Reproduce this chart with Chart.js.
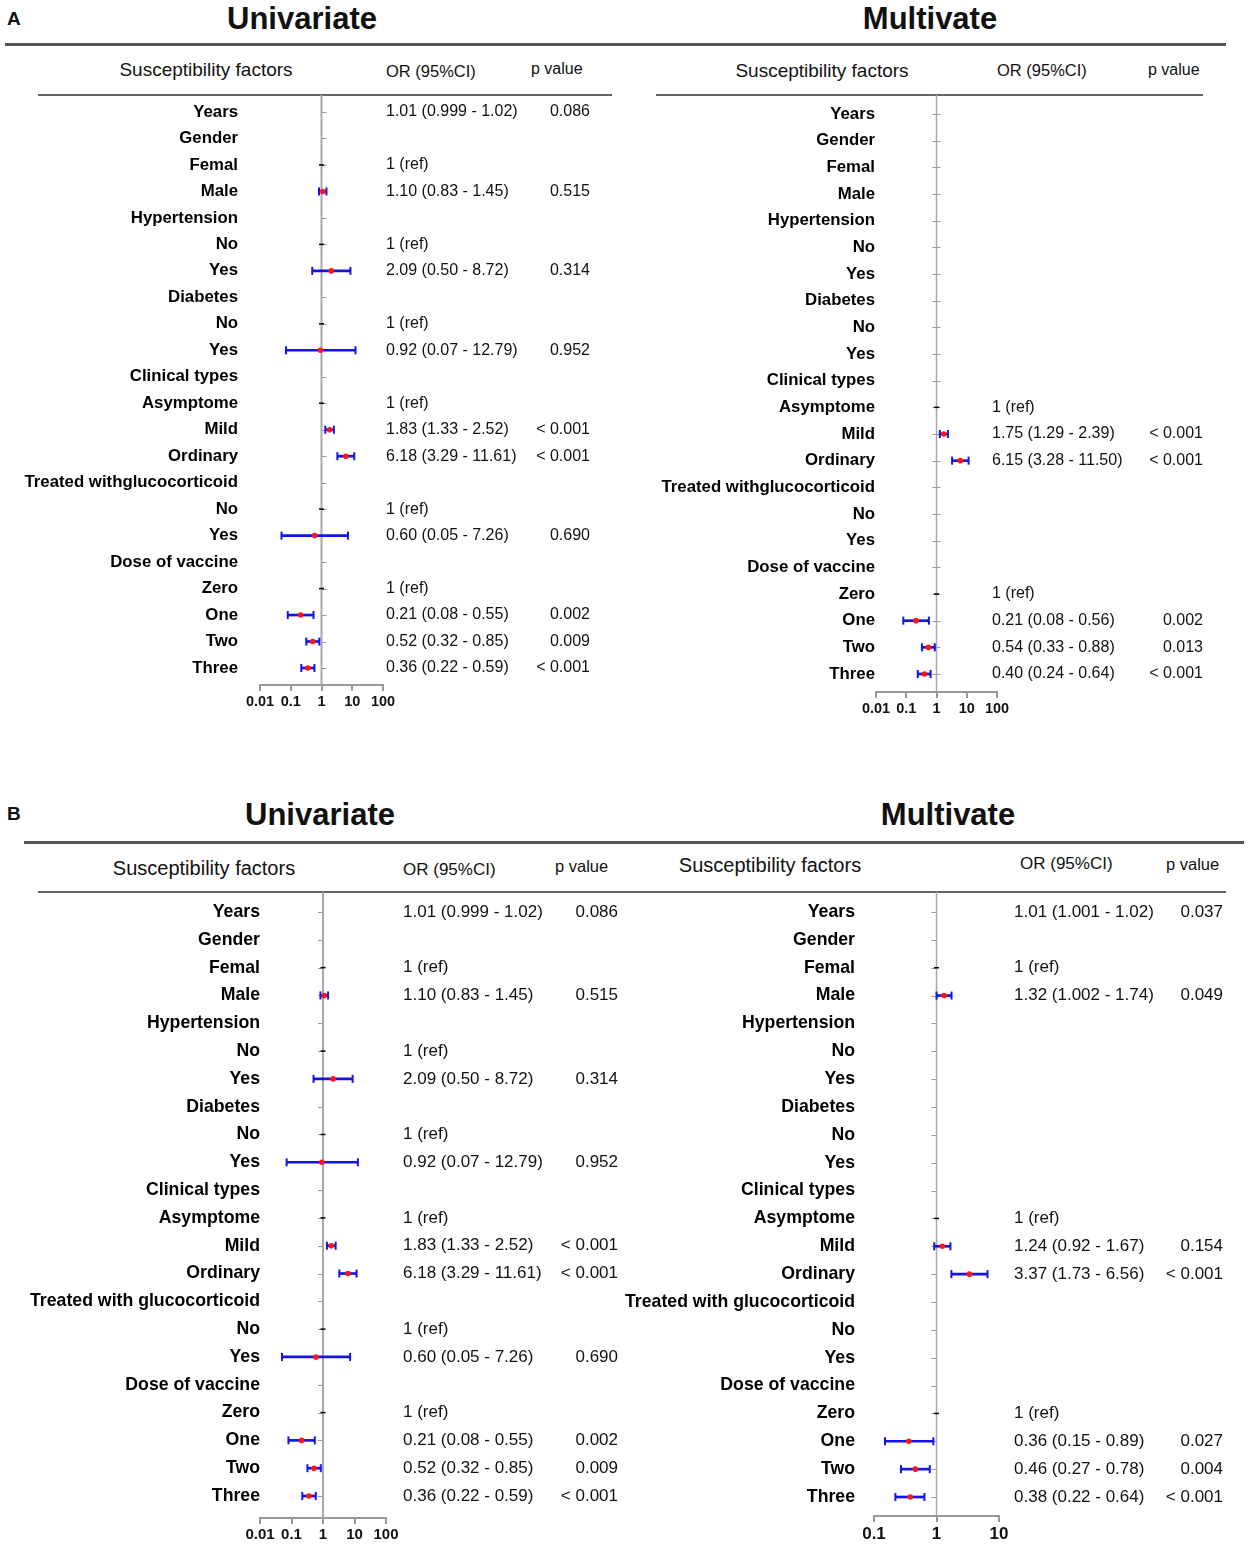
<!DOCTYPE html>
<html>
<head>
<meta charset="utf-8">
<script src="https://cdn.jsdelivr.net/npm/chart.js@4.4.1/dist/chart.umd.min.js"></script>
<style>
  body { margin: 0; background: #fff; }
  #page { position: relative; width: 1248px; height: 1548px; background: #fff; overflow: hidden;
          font-family: 'Liberation Sans', Arial, sans-serif; color: #111; }
  .t { position: absolute; white-space: nowrap; line-height: 1; }
  .c { transform: translate(-50%, -50%); }
  .l { transform: translateY(-50%); }
  .b { font-weight: bold; }
  .rule { position: absolute; }
  .box { position: absolute; }
</style>
</head>
<body>
<div id="page">
  <!-- panel A -->
  <div class="t l b" style="left:7px;top:18px;font-size:19px;">A</div>
  <div class="t c b" style="left:302px;top:18px;font-size:31px;">Univariate</div>
  <div class="t c b" style="left:930px;top:18px;font-size:31px;">Multivate</div>
  <div class="rule" style="left:5px;top:43px;width:1221px;height:3px;background:#555;"></div>
  <div class="t c" style="left:206px;top:69px;font-size:19px;">Susceptibility factors</div>
  <div class="t l" style="left:386px;top:71px;font-size:16.5px;">OR (95%CI)</div>
  <div class="t l" style="left:531px;top:69px;font-size:16px;">p value</div>
  <div class="t c" style="left:822px;top:70px;font-size:19px;">Susceptibility factors</div>
  <div class="t l" style="left:997px;top:70px;font-size:16.5px;">OR (95%CI)</div>
  <div class="t l" style="left:1148px;top:70px;font-size:16px;">p value</div>
  <div class="rule" style="left:38px;top:94px;width:574px;height:1.5px;background:#666;"></div>
  <div class="rule" style="left:656px;top:94px;width:547px;height:1.5px;background:#666;"></div>

  <!-- panel B -->
  <div class="t l b" style="left:7px;top:813px;font-size:19px;">B</div>
  <div class="t c b" style="left:320px;top:814px;font-size:31px;">Univariate</div>
  <div class="t c b" style="left:948px;top:814px;font-size:31px;">Multivate</div>
  <div class="rule" style="left:24px;top:841px;width:1220px;height:3px;background:#555;"></div>
  <div class="t c" style="left:204px;top:868px;font-size:20px;">Susceptibility factors</div>
  <div class="t l" style="left:403px;top:869px;font-size:17px;">OR (95%CI)</div>
  <div class="t l" style="left:555px;top:866px;font-size:16.5px;">p value</div>
  <div class="t c" style="left:770px;top:865px;font-size:20px;">Susceptibility factors</div>
  <div class="t l" style="left:1020px;top:863px;font-size:17px;">OR (95%CI)</div>
  <div class="t l" style="left:1166px;top:864px;font-size:16.5px;">p value</div>
  <div class="rule" style="left:38px;top:891px;width:1188px;height:1.5px;background:#666;"></div>

  <div class="box" id="boxAU"><canvas id="chartAU"></canvas></div>
  <div class="box" id="boxAM"><canvas id="chartAM"></canvas></div>
  <div class="box" id="boxBU"><canvas id="chartBU"></canvas></div>
  <div class="box" id="boxBM"><canvas id="chartBM"></canvas></div>
</div>

<script>
// row labels
var rowsA = ['Years', 'Gender', 'Femal', 'Male', 'Hypertension', 'No', 'Yes', 'Diabetes', 'No', 'Yes',
  'Clinical types', 'Asymptome', 'Mild', 'Ordinary', 'Treated withglucocorticoid', 'No', 'Yes',
  'Dose of vaccine', 'Zero', 'One', 'Two', 'Three'];
var rowsB = ['Years', 'Gender', 'Femal', 'Male', 'Hypertension', 'No', 'Yes', 'Diabetes', 'No', 'Yes',
  'Clinical types', 'Asymptome', 'Mild', 'Ordinary', 'Treated with glucocorticoid', 'No', 'Yes',
  'Dose of vaccine', 'Zero', 'One', 'Two', 'Three'];

// univariate (same in A and B)
var uniOR   = [1.01, null, 1, 1.10, null, 1, 2.09, null, 1, 0.92, null, 1, 1.83, 6.18, null, 1, 0.60, null, 1, 0.21, 0.52, 0.36];
var uniLow  = [0.999, null, null, 0.83, null, null, 0.50, null, null, 0.07, null, null, 1.33, 3.29, null, null, 0.05, null, null, 0.08, 0.32, 0.22];
var uniHigh = [1.02, null, null, 1.45, null, null, 8.72, null, null, 12.79, null, null, 2.52, 11.61, null, null, 7.26, null, null, 0.55, 0.85, 0.59];
var uniP    = ['0.086', '', '', '0.515', '', '', '0.314', '', '', '0.952', '', '', '< 0.001', '< 0.001', '', '', '0.690', '', '', '0.002', '0.009', '< 0.001'];

// multivariate A
var mvaOR   = [null, null, null, null, null, null, null, null, null, null, null, 1, 1.75, 6.15, null, null, null, null, 1, 0.21, 0.54, 0.40];
var mvaLow  = [null, null, null, null, null, null, null, null, null, null, null, null, 1.29, 3.28, null, null, null, null, null, 0.08, 0.33, 0.24];
var mvaHigh = [null, null, null, null, null, null, null, null, null, null, null, null, 2.39, 11.50, null, null, null, null, null, 0.56, 0.88, 0.64];
var mvaP    = ['', '', '', '', '', '', '', '', '', '', '', '', '< 0.001', '< 0.001', '', '', '', '', '', '0.002', '0.013', '< 0.001'];

// multivariate B
var mvbOR   = [1.01, null, 1, 1.32, null, null, null, null, null, null, null, 1, 1.24, 3.37, null, null, null, null, 1, 0.36, 0.46, 0.38];
var mvbLow  = [1.001, null, null, 1.002, null, null, null, null, null, null, null, null, 0.92, 1.73, null, null, null, null, null, 0.15, 0.27, 0.22];
var mvbHigh = [1.02, null, null, 1.74, null, null, null, null, null, null, null, null, 1.67, 6.56, null, null, null, null, null, 0.89, 0.78, 0.64];
var mvbP    = ['0.037', '', '', '0.049', '', '', '', '', '', '', '', '', '0.154', '< 0.001', '', '', '', '', '', '0.027', '0.004', '< 0.001'];

// x axis ticks
var ticksWide = [0.01, 0.1, 1, 10, 100];
var ticksNarrow = [0.1, 1, 10];

var FONT = "'Liberation Sans', Arial, sans-serif";
var BLUE = '#1414e6';
var RED = '#ff1414';

function fmt(v) {
  var s = String(v);
  var dec = s.indexOf('.') < 0 ? 0 : s.length - s.indexOf('.') - 1;
  return dec < 2 ? v.toFixed(2) : s;
}

function orText(or, lo, hi) {
  if (or == null) return '';
  if (lo == null) return '1 (ref)';
  return fmt(or) + ' (' + fmt(lo) + ' - ' + fmt(hi) + ')';
}

var forestPlugin = {
  id: 'forest',
  beforeDatasetsDraw: function(chart, args, o) {
    var ctx = chart.ctx, x = chart.scales.x, y = chart.scales.y;
    var cx = x.getPixelForValue(1);
    ctx.save();
    ctx.strokeStyle = '#a8a8a8';
    ctx.lineWidth = o.lineWidth;
    ctx.beginPath();
    ctx.moveTo(cx, 0);
    ctx.lineTo(cx, chart.chartArea.bottom);
    ctx.stroke();
    ctx.lineWidth = 1;
    ctx.strokeStyle = '#999';
    ctx.beginPath();
    o.rows.forEach(function(_, i) {
      var py = Math.round(y.getPixelForValue(i)) + 0.5;
      var a = o.tickSide > 0 ? 0 : (o.tickSide < 0 ? -5 : -4);
      var b = o.tickSide > 0 ? 5 : (o.tickSide < 0 ? 0 : 4);
      ctx.moveTo(cx + a, py);
      ctx.lineTo(cx + b, py);
    });
    ctx.stroke();
    ctx.restore();
  },
  afterDatasetsDraw: function(chart, args, o) {
    var ctx = chart.ctx, y = chart.scales.y;
    ctx.save();
    ctx.fillStyle = '#111';
    ctx.font = o.textSize + 'px ' + FONT;
    ctx.textBaseline = 'middle';
    o.rows.forEach(function(_, i) {
      var py = y.getPixelForValue(i);
      ctx.textAlign = 'left';
      ctx.fillText(orText(o.or[i], o.low[i], o.high[i]), o.orX, py);
      ctx.textAlign = 'right';
      ctx.fillText(o.p[i], o.pRight, py);
    });
    ctx.restore();
  }
};

function makePanel(id, p) {
  var box = document.getElementById('box' + id);
  box.style.left = p.box.left + 'px';
  box.style.top = p.box.top + 'px';
  box.style.width = p.box.w + 'px';
  box.style.height = p.box.h + 'px';

  var n = p.rows.length;
  var sp = (p.last - p.first) / (n - 1);
  // keep the plot area top clear of the label padding Chart.js reserves
  var areaTop = p.box.top + 40;
  var yMin = -(p.first - areaTop) / sp;
  var yMax = (n - 1) + (p.axisY - p.last) / sp;
  var XH = 40;

  var dots = [], caps = [], bars = [], refs = [];
  p.rows.forEach(function(_, i) {
    var or = p.or[i];
    if (or == null) return;
    if (p.low[i] == null) { refs.push({x: or, y: i}); return; }
    dots.push({x: or, y: i});
    caps.push({x: p.low[i], y: i}, {x: p.high[i], y: i});
    bars.push({y: i, x: [p.low[i], p.high[i]]});
  });

  new Chart(document.getElementById('chart' + id), {
    type: 'bar',
    data: {
      datasets: [
        { type: 'scatter', data: dots, order: 0, pointStyle: 'circle', pointRadius: 2.8,
          pointBackgroundColor: RED, pointBorderWidth: 0, backgroundColor: RED, borderWidth: 0 },
        { type: 'scatter', data: refs, order: 1, pointStyle: 'line', pointRadius: 2.5,
          pointBorderColor: '#000', borderColor: '#000', pointBorderWidth: 1.5 },
        { type: 'scatter', data: caps, order: 2, pointStyle: 'line', pointRotation: 90, pointRadius: 4,
          pointBorderColor: BLUE, borderColor: BLUE, pointBorderWidth: 2 },
        { type: 'bar', data: bars, order: 3, indexAxis: 'y', barThickness: 2,
          backgroundColor: BLUE, borderWidth: 0 }
      ]
    },
    options: {
      responsive: true,
      maintainAspectRatio: false,
      animation: false,
      events: [],
      layout: {
        padding: {
          left: 0,
          top: areaTop - p.box.top,
          right: p.box.left + p.box.w - p.area.r,
          bottom: p.box.top + p.box.h - p.axisY - XH
        }
      },
      plugins: {
        legend: { display: false },
        tooltip: { enabled: false },
        forest: {
          rows: p.rows, or: p.or, low: p.low, high: p.high, p: p.p,
          orX: p.orX - p.box.left, pRight: p.pRight - p.box.left,
          textSize: p.textSize, tickSide: p.tickSide, lineWidth: p.lineWidth
        }
      },
      scales: {
        x: {
          type: 'logarithmic',
          offset: false,
          min: p.xTicks[0],
          max: p.xTicks[p.xTicks.length - 1],
          afterBuildTicks: function(s) { s.ticks = p.xTicks.map(function(v) { return {value: v}; }); },
          afterFit: function(s) { s.height = XH; },
          ticks: {
            callback: function(v) { return String(v); },
            font: { family: FONT, size: p.xFont, weight: 'bold' },
            color: '#111', padding: 2, autoSkip: false, maxRotation: 0
          },
          grid: { offset: false, drawOnChartArea: false, drawTicks: true, tickLength: 6, color: '#999', lineWidth: 2 },
          border: { color: '#999', width: 2 }
        },
        y: {
          type: 'linear',
          offset: false,
          reverse: true,
          min: yMin,
          max: yMax,
          bounds: 'data',
          afterBuildTicks: function(s) { s.ticks = p.rows.map(function(_, i) { return {value: i}; }); },
          afterFit: function(s) { s.width = p.area.l - p.box.left; },
          ticks: {
            callback: function(v) { return p.rows[v]; },
            font: { family: FONT, size: p.labelSize, weight: 'bold' },
            color: '#000', padding: p.labelPad, autoSkip: false
          },
          grid: { offset: false, display: false, drawTicks: false },
          border: { display: false }
        }
      }
    },
    plugins: [forestPlugin]
  });
}

makePanel('AU', {
  box: {left: 0, top: 95, w: 620, h: 640}, area: {l: 260, r: 383},
  first: 112, last: 668, axisY: 685,
  rows: rowsA, or: uniOR, low: uniLow, high: uniHigh, p: uniP,
  xTicks: ticksWide, xFont: 14.5, labelSize: 16.8, labelPad: 22, textSize: 16,
  orX: 386, pRight: 590, tickSide: 1, lineWidth: 2
});
makePanel('AM', {
  box: {left: 630, top: 95, w: 618, h: 640}, area: {l: 876, r: 997},
  first: 114, last: 674, axisY: 692,
  rows: rowsA, or: mvaOR, low: mvaLow, high: mvaHigh, p: mvaP,
  xTicks: ticksWide, xFont: 14.5, labelSize: 16.8, labelPad: 1, textSize: 16,
  orX: 992, pRight: 1203, tickSide: 0, lineWidth: 1.5
});
makePanel('BU', {
  box: {left: 0, top: 892, w: 620, h: 656}, area: {l: 260, r: 386},
  first: 912, last: 1496, axisY: 1518,
  rows: rowsB, or: uniOR, low: uniLow, high: uniHigh, p: uniP,
  xTicks: ticksWide, xFont: 15, labelSize: 17.7, labelPad: 0, textSize: 17,
  orX: 403, pRight: 618, tickSide: -1, lineWidth: 2
});
makePanel('BM', {
  box: {left: 612, top: 892, w: 636, h: 656}, area: {l: 874, r: 999},
  first: 912, last: 1497, axisY: 1516,
  rows: rowsB, or: mvbOR, low: mvbLow, high: mvbHigh, p: mvbP,
  xTicks: ticksNarrow, xFont: 17, labelSize: 17.7, labelPad: 19, textSize: 17,
  orX: 1014, pRight: 1223, tickSide: -1, lineWidth: 1.5
});
</script>
</body>
</html>
